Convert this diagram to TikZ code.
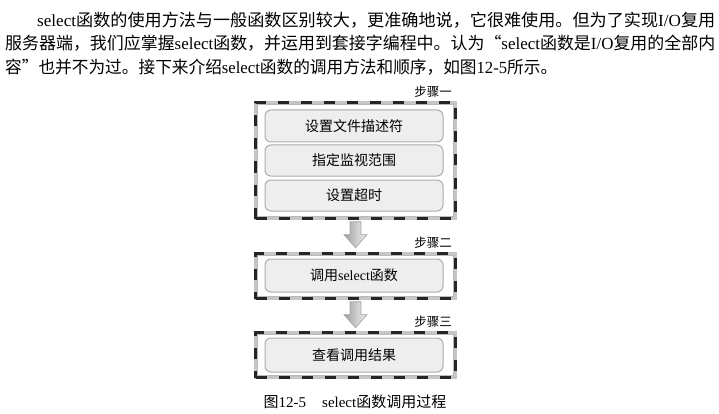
\documentclass[tikz,border=0pt]{standalone}
\usepackage{fontspec}
\usepackage{graphicx}
\usetikzlibrary{calc}
\setmainfont{Liberation Serif}
\newfontfamily\cjk{Noto Sans CJK SC}
\newcommand\latn[1]{{\rmfamily #1}}
\begin{document}
\begin{tikzpicture}[x=1pt,y=-1pt,
  outerbox/.style={draw=gray!45, line width=3.4pt, minimum width=200pt, inner sep=0pt, fill=white,
     postaction={draw=black!85, line width=3.4pt, dash pattern=on 11pt off 12pt}},
  innerbox/.style={draw=gray!65, line width=1pt, rounded corners=6pt, fill=gray!13,
     minimum width=178pt, inner sep=0pt, font=\cjk\fontsize{14}{16}\selectfont},
  steplabel/.style={anchor=east, inner sep=0pt, font=\cjk\fontsize{12.5}{14}\selectfont},
  para/.style={anchor=west, inner sep=0pt, font=\cjk\fontsize{17}{20}\selectfont},
  thinline/.style={draw=gray!55, line width=0.7pt},
  blockarrow/.style={draw=gray!70, line width=0.7pt, left color=gray!75, right color=gray!10},
  ]
\useasboundingbox (0,0) rectangle (719,414);

% paragraph
\node[para] (p1) at (37,20) {\resizebox{678pt}{\height}{\latn{select}函数的使用方法与一般函数区别较大，更准确地说，它很难使用。但为了实现\latn{I/O}复用}};
\node[para] (p2) at (5,43) {\resizebox{710pt}{\height}{服务器端，我们应掌握\latn{select}函数，并运用到套接字编程中。认为“\latn{select}函数是\latn{I/O}复用的全部内}};
\node[para] (p3) at (5,67) {\resizebox{552pt}{\height}{容”也并不为过。接下来介绍\latn{select}函数的调用方法和顺序，如图\latn{12-5}所示。}};

% step boxes
\node[outerbox, minimum height=116pt] (s1) at (355.5,160.5) {};
\node[outerbox, minimum height=45pt] (s2) at (355.5,276) {};
\node[outerbox, minimum height=45pt] (s3) at (355.5,355) {};
\foreach \s in {s1,s2,s3}{
  \draw[thinline] ([shift={(4,4)}]\s.north west) rectangle ([shift={(-4,-4)}]\s.south east);
}

\node[steplabel] (l1) at (452,92) {步骤一};
\node[steplabel] (l2) at (452,243) {步骤二};
\node[steplabel] (l3) at (452,322) {步骤三};

\node[innerbox, minimum height=32pt] (b1) at (354,126) {设置文件描述符};
\node[innerbox, minimum height=31pt] (b2) at (354,160.5) {指定监视范围};
\node[innerbox, minimum height=31pt] (b3) at (354,195.5) {设置超时};
\node[innerbox, minimum height=33pt] (b4) at (354,275.5) {调用\latn{select}函数};
\node[innerbox, minimum height=34pt] (b5) at (354,355) {查看调用结果};

% arrows
\coordinate (a1) at ($(s1.south)+(0,1.5)$);
\coordinate (a2) at ($(s2.south)+(0,1.5)$);
\foreach \a in {a1,a2}{
  \draw[blockarrow] ([shift={(-5.5,0)}]\a) -- ([shift={(5.5,0)}]\a) -- ([shift={(5.5,13)}]\a)
     -- ([shift={(11.5,13)}]\a) -- ([shift={(0,26)}]\a) -- ([shift={(-11.5,13)}]\a)
     -- ([shift={(-5.5,13)}]\a) -- cycle;
}

% caption
\node[inner sep=0pt, font=\cjk\fontsize{15}{17}\selectfont] (cap) at (355,402) {图\latn{12-5}\hspace{16pt}\latn{select}函数调用过程};
\end{tikzpicture}
\end{document}
